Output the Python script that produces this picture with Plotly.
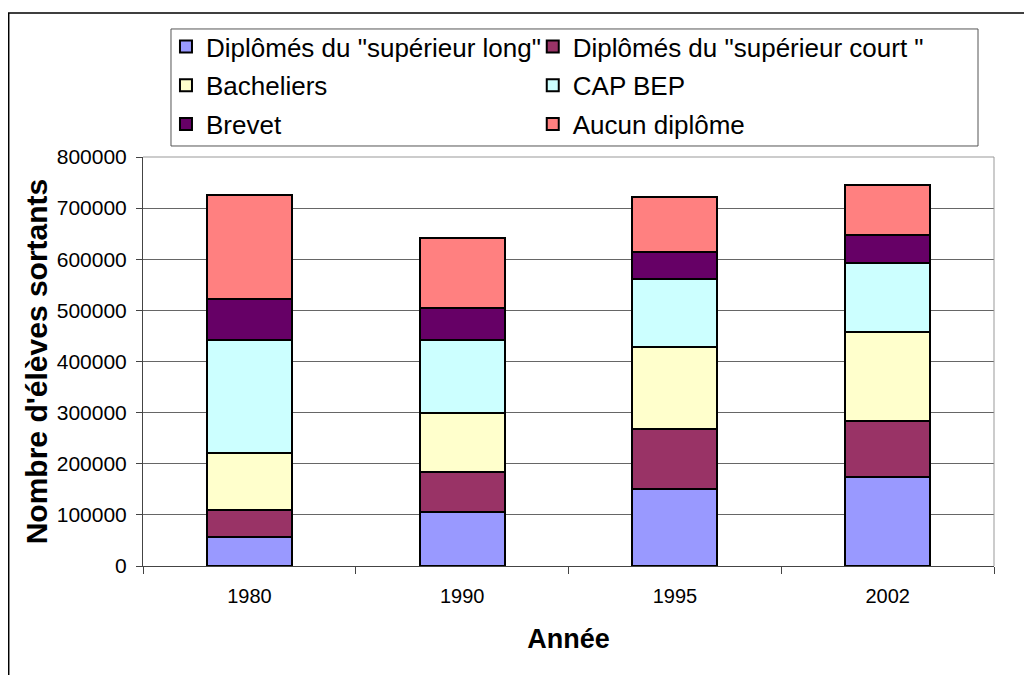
import plotly.graph_objects as go

years = ["1980", "1990", "1995", "2002"]
sup_long = [57000, 105000, 150000, 175000]
sup_court = [52000, 78000, 118000, 109000]
bacheliers = [113000, 117000, 160000, 174000]
cap_bep = [220000, 142000, 133000, 134000]
brevet = [80000, 62000, 53000, 55000]
aucun = [203000, 138000, 108000, 98000]

series = [
    ('Diplômés du "supérieur long"', sup_long, "#9999FF", "legend"),
    ('Diplômés du "supérieur court "', sup_court, "#993366", "legend2"),
    ("Bacheliers", bacheliers, "#FFFFCC", "legend"),
    ("CAP BEP", cap_bep, "#CCFFFF", "legend2"),
    ("Brevet", brevet, "#660066", "legend"),
    ("Aucun diplôme", aucun, "#FF8080", "legend2"),
]

fig = go.Figure()
for i, (name, vals, color, leg) in enumerate(series):
    fig.add_trace(go.Bar(
        x=years, y=vals, name=name, width=0.4, legend=leg, legendgroup=f"g{i}",
        marker=dict(color=color, line=dict(color="black", width=2)),
    ))

FONT = "Liberation Sans, Arial, sans-serif"
leg_common = dict(
    orientation="v", yanchor="top", xanchor="left", traceorder="grouped",
    tracegroupgap=2,
    font=dict(size=26, family=FONT), borderwidth=0, bgcolor="rgba(0,0,0,0)",
)
fig.update_layout(
    width=1032, height=675,
    barmode="stack",
    paper_bgcolor="white", plot_bgcolor="white",
    margin=dict(l=135, r=46, t=149, b=117, autoexpand=False),
    font=dict(family=FONT, color="black"),
    legend=dict(x=0.027, y=1.3276, **leg_common),
    legend2=dict(x=0.458, y=1.3276, **leg_common),
    xaxis=dict(
        type="category", range=[-0.5, 3.5],
        tickson="boundaries", ticks="outside", ticklen=7, tickcolor="#444444",
        showline=True, linecolor="#444444", linewidth=1, mirror=False,
        tickfont=dict(size=20), ticklabelstandoff=12,
        title=dict(text="<b>Année</b>", font=dict(size=27), standoff=23),
    ),
    yaxis=dict(
        range=[0, 800000], dtick=100000, tickformat="d",
        ticks="outside", ticklen=6, tickcolor="#444444",
        showline=True, linecolor="#444444", linewidth=1,
        showgrid=True, gridcolor="#666666", gridwidth=1, zeroline=False,
        tickfont=dict(size=21), ticklabelstandoff=5,
        title=dict(text="<b>Nombre d'élèves sortants</b>", font=dict(size=30), standoff=0),
    ),
    shapes=[
        dict(type="line", xref="paper", yref="paper", x0=1, x1=1, y0=0, y1=1,
             line=dict(color="#999999", width=1)),
        dict(type="line", xref="paper", yref="paper", x0=0, x1=1, y0=1, y1=1,
             line=dict(color="#999999", width=1)),
        dict(type="rect", xref="paper", yref="paper", x0=0.0329, x1=0.9812,
             y0=1.0269, y1=1.313, line=dict(color="#555555", width=1)),
        dict(type="rect", xref="paper", yref="paper", x0=-0.1578, x1=1.3,
             y0=-0.5, y1=1.352, line=dict(color="black", width=1.5)),
    ],
)

fig.write_html("out.html")
